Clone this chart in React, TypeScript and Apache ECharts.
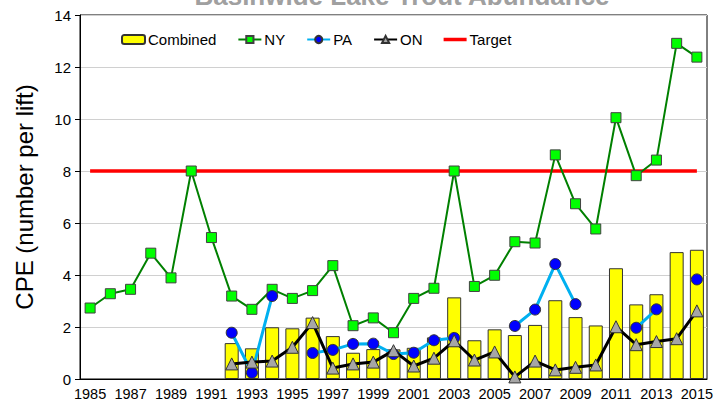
import React, { useEffect, useRef } from "react";
import * as echarts from "echarts";

const years: string[] = [
  "1985","1986","1987","1988","1989","1990","1991","1992","1993","1994",
  "1995","1996","1997","1998","1999","2000","2001","2002","2003","2004",
  "2005","2006","2007","2008","2009","2010","2011","2012","2013","2014","2015",
];

const combined: (number | null)[] = [
  null, null, null, null, null, null, null, 1.38, 1.18, 1.99,
  1.95, 2.36, 1.65, 1.01, 1.15, 1.14, 1.2, 1.6, 3.14, 1.49,
  1.91, 1.69, 2.08, 3.03, 2.38, 2.06, 4.26, 2.87, 3.26, 4.88, 4.97,
];

const ny: (number | null)[] = [
  2.73, 3.28, 3.45, 4.84, 3.89, 8.0, 5.44, 3.19, 2.68, 3.45,
  3.1, 3.4, 4.36, 2.05, 2.35, 1.78, 3.1, 3.49, 8.0, 3.56,
  3.99, 5.28, 5.23, 8.62, 6.74, 5.77, 10.05, 7.82, 8.42, 12.91, 12.38,
];

const pa: (number | null)[] = [
  null, null, null, null, null, null, null, 1.78, 0.24, 3.19,
  null, 1.0, 1.12, 1.35, 1.36, 0.96, 1.01, 1.49, 1.58, null,
  null, 2.04, 2.67, 4.42, 2.88, null, null, 1.97, 2.68, null, 3.83,
];

const on: (number | null)[] = [
  null, null, null, null, null, null, null, 0.58, 0.65, 0.69,
  1.22, 2.17, 0.42, 0.58, 0.65, 1.09, 0.5, 0.8, 1.47, 0.73,
  1.04, 0.08, 0.69, 0.35, 0.45, 0.54, 2.01, 1.32, 1.44, 1.55, 2.62,
];

const target: number[] = years.map(() => 8);

const yTicks = { min: 0, max: 14, interval: 2 };

const FONT = "Liberation Sans, Arial, sans-serif";

export default function App() {
  const ref = useRef<HTMLDivElement>(null);
  useEffect(() => {
    if (!ref.current) return;
    const chart = echarts.init(ref.current, undefined, { renderer: "svg" });
    chart.setOption({
      animation: false,
      backgroundColor: "#ffffff",
      textStyle: { fontFamily: FONT },
      grid: {
        left: 80,
        right: 18,
        top: 15,
        bottom: 27,
        show: true,
        borderColor: "#000",
        borderWidth: 1,
        backgroundColor: "transparent",
      },
      graphic: [
        {
          type: "text",
          style: {
            text: "Basinwide Lake Trout Abundance",
            x: 402,
            y: 9,
            textAlign: "center",
            textVerticalAlign: "bottom",
            fontSize: 26,
            fontWeight: "bold",
            fontFamily: FONT,
            fill: "#a0a0a0",
          },
        },
      ],
      legend: {
        left: 121,
        top: 32,
        padding: 0,
        itemGap: 21,
        itemWidth: 23,
        itemHeight: 9,
        textStyle: { fontSize: 15, color: "#000", fontFamily: FONT, padding: [0, 0, 0, -2] },
        data: [
          "Combined",
          "NY",
          "PA",
          "ON",
          {
            name: "Target",
            icon: "path://M0,0 L23,0 L23,3.5 L0,3.5 Z",
            itemStyle: { color: "#ff0000" },
          },
        ],
      },
      xAxis: {
        type: "category",
        data: years,
        boundaryGap: true,
        axisLine: { lineStyle: { color: "#000", width: 1 } },
        axisTick: { interval: 0, length: 5, lineStyle: { color: "#000" } },
        axisLabel: { interval: 1, fontSize: 14.5, color: "#000", margin: 7, fontFamily: FONT },
        splitLine: { show: false },
      },
      yAxis: {
        type: "value",
        min: yTicks.min,
        max: yTicks.max,
        interval: yTicks.interval,
        name: "CPE (number per lift)",
        nameLocation: "middle",
        nameGap: 44,
        nameRotate: 90,
        nameTextStyle: { fontSize: 24, color: "#000", fontFamily: FONT },
        axisLine: { show: true, lineStyle: { color: "#000", width: 1 } },
        axisTick: { show: true, length: 5, lineStyle: { color: "#000" } },
        axisLabel: { fontSize: 15, color: "#000", margin: 9, fontFamily: FONT },
        splitLine: { lineStyle: { color: "#d0d0d0", width: 1 } },
      },
      series: [
        {
          name: "Combined",
          type: "bar",
          data: combined,
          barWidth: 14,
          z: 1,
          itemStyle: { color: "#ffff00", borderColor: "#333", borderWidth: 1 },
        },
        {
          name: "Target",
          type: "line",
          data: target,
          symbol: "none",
          z: 2,
          lineStyle: { color: "#ff0000", width: 3.5 },
          itemStyle: { color: "#ff0000" },
        },
        {
          name: "NY",
          type: "line",
          data: ny,
          symbol: "rect",
          symbolSize: 10,
          z: 3,
          lineStyle: { color: "#008000", width: 2 },
          itemStyle: { color: "#00ff00", borderColor: "#404040", borderWidth: 1 },
        },
        {
          name: "PA",
          type: "line",
          data: pa,
          symbol: "circle",
          symbolSize: 11,
          connectNulls: false,
          z: 4,
          lineStyle: { color: "#00b0f0", width: 3 },
          itemStyle: { color: "#0000ff", borderColor: "#333", borderWidth: 1 },
        },
        {
          name: "ON",
          type: "line",
          data: on,
          symbol: "triangle",
          symbolSize: 12,
          connectNulls: false,
          z: 5,
          lineStyle: { color: "#000", width: 3 },
          itemStyle: { color: "#a6a6a6", borderColor: "#333", borderWidth: 1 },
        },
      ],
    });
    return () => chart.dispose();
  }, []);
  return (
    <div
      ref={ref}
      style={{ position: "absolute", left: 0, top: 0, width: 725, height: 406 }}
    />
  );
}
